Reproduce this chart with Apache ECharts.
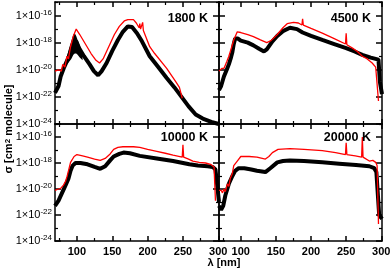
<!DOCTYPE html>
<html><head><meta charset="utf-8">
<script src="https://cdn.jsdelivr.net/npm/echarts@6/dist/echarts.min.js"></script>
<style>html,body{margin:0;padding:0;background:#fff}#c{width:392px;height:274px}</style>
</head><body><div id="c"></div>
<script>
// ---------- data (wavelength in nm, cross section as log10 value) ----------
const panelLabels = ['1800 K', '4500 K', '10000 K', '20000 K'];
const xTickLabels = [100, 150, 200, 250, 300];
const xMinorTicks = [75, 125, 175, 225, 275];
const yTickExps = [-24, -22, -20, -18, -16];
const yMinorExps = [-23, -21, -19, -17, -15];

// 1800 K
const k1800BlackX = [69,74,77,82,88,92,96,99,103,110,118,124,130,135,142,150,158,165,172,178,185,192,203,215,227,238,248,258,268,278,290,301];
const k1800BlackY = [-21.7,-21.2,-20.5,-19.8,-19.1,-18.5,-17.9,-17.9,-18.4,-19.0,-19.6,-20.1,-20.4,-20.1,-19.5,-18.6,-17.8,-17.2,-16.8,-16.85,-17.3,-17.9,-19.0,-19.8,-20.6,-21.3,-22.0,-22.7,-23.3,-23.6,-23.85,-24.0];
// noisy spread of the 1800 K black curve around its first maximum
const k1800BandX = [86,89,92,95,97,99,101,104,108];
const k1800BandHi = [-19.0,-18.4,-17.9,-17.4,-17.3,-17.5,-17.8,-18.2,-18.7];
const k1800BandLo = [-19.6,-19.4,-19.2,-18.9,-18.8,-18.8,-18.9,-19.1,-19.3];
const k1800RedX = [69,74,78,80,83,86,88,91,95,99,104,112,120,127,132,137,145,153,160,167,172,180,184,188,189,190,192,193,194,196,203,210,227,240,245,249];
const k1800RedY = [-20.1,-20.0,-20.1,-19.6,-19.8,-19.0,-19.2,-18.3,-17.5,-17.0,-17.4,-18.1,-18.8,-19.3,-19.5,-19.2,-18.3,-17.4,-16.8,-16.4,-16.3,-16.3,-16.55,-16.9,-16.6,-17.0,-16.9,-16.5,-17.1,-17.2,-18.3,-18.8,-19.9,-20.9,-21.3,-22.1];

// 4500 K
const k4500BlackX = [69,72,76,80,83,86,88,90,92,96,100,110,118,126,133,137,145,152,160,170,180,188,200,216,233,250,262,273,285,296,298,301];
const k4500BlackY = [-21.5,-21.2,-20.5,-20.0,-19.6,-19.1,-18.7,-18.1,-17.7,-17.7,-17.85,-18.0,-18.2,-18.45,-18.65,-18.5,-17.9,-17.5,-17.15,-16.9,-17.0,-17.25,-17.5,-17.8,-18.1,-18.4,-18.65,-18.9,-19.1,-19.25,-20.9,-21.8];
const k4500RedX = [69,73,76,80,83,86,90,95,100,110,118,128,137,143,152,160,166,175,182,187,188,189,200,216,233,249,250,251,259,266,273,280,287,292,294,296];
const k4500RedY = [-20.1,-19.9,-19.9,-19.4,-19.0,-18.5,-17.8,-17.2,-17.25,-17.4,-17.55,-17.8,-18.0,-17.85,-17.4,-16.9,-16.6,-16.5,-16.55,-16.7,-16.25,-16.7,-16.95,-17.3,-17.7,-18.1,-17.3,-18.15,-18.4,-18.65,-19.0,-19.2,-19.5,-19.8,-19.9,-22.3];

// 10000 K
const k10000BlackX = [69,74,79,84,88,91,94,98,105,115,125,133,140,147,152,160,166,175,189,213,236,259,271,285,292,296,301];
const k10000BlackY = [-21.3,-20.9,-20.3,-19.7,-19.2,-18.6,-18.2,-18.0,-18.0,-18.1,-18.3,-18.45,-18.25,-17.8,-17.5,-17.3,-17.2,-17.25,-17.45,-17.65,-17.85,-18.1,-18.2,-18.25,-18.3,-18.5,-21.0];
const k10000RedX = [69,74,77,81,84,86,89,91,96,100,108,115,125,133,140,147,152,158,165,180,189,200,213,225,236,249,250,251,258,264,273,282,289,294,296];
const k10000RedY = [-20.1,-20.0,-19.95,-19.7,-19.4,-19.05,-18.4,-17.95,-17.5,-17.35,-17.45,-17.55,-17.7,-17.8,-17.65,-17.3,-16.95,-16.8,-16.75,-16.75,-16.8,-16.95,-17.1,-17.25,-17.4,-17.55,-16.6,-17.55,-17.7,-17.85,-17.95,-18.0,-18.1,-18.3,-20.9];

// 20000 K
const k20000BlackX = [69,72,75,78,83,88,92,97,105,115,123,135,142,152,160,170,190,216,240,264,283,290,293,297,301];
const k20000BlackY = [-21.3,-21.6,-21.3,-20.5,-19.6,-19.0,-18.6,-18.4,-18.4,-18.5,-18.6,-18.7,-18.4,-17.95,-17.85,-17.8,-17.85,-17.95,-18.05,-18.15,-18.25,-18.4,-18.7,-22.0,-22.3];
const k20000RedX = [69,72,74,76,78,81,83,85,88,90,95,100,112,123,135,140,145,153,170,190,216,235,249,250,251,263,272,273,274,283,288,292,294,296];
const k20000RedY = [-20.1,-20.1,-20.3,-20.0,-20.2,-19.6,-19.8,-19.2,-18.8,-18.2,-17.85,-17.5,-17.5,-17.55,-17.7,-17.5,-17.2,-16.95,-16.9,-16.95,-17.05,-17.2,-17.35,-16.45,-17.35,-17.45,-17.55,-16.0,-17.55,-17.85,-17.8,-17.95,-18.2,-22.7];

const panels = [
  {black: [k1800BlackX, k1800BlackY], red: [k1800RedX, k1800RedY], band: [k1800BandX, k1800BandHi, k1800BandLo]},
  {black: [k4500BlackX, k4500BlackY], red: [k4500RedX, k4500RedY]},
  {black: [k10000BlackX, k10000BlackY], red: [k10000RedX, k10000RedY]},
  {black: [k20000BlackX, k20000BlackY], red: [k20000RedX, k20000RedY]}
];

// ---------- layout ----------
const grids = [
  {left: 55, top: 2, width: 164, height: 122},
  {left: 219, top: 2, width: 163, height: 122},
  {left: 55, top: 124, width: 164, height: 117},
  {left: 219, top: 124, width: 163, height: 117}
];
const X_MIN = 69, X_MAX = 301;
const Y_MIN = 9.99e-25, Y_MAX = 1.001e-15;
const FONT = 'Liberation Sans, Arial, Helvetica, sans-serif';
const lineStyle = {color: '#000', width: 1.5};
const minorLine = {color: '#000', width: 1.2};

const pow10 = v => Math.pow(10, v);
const toPts = (xs, ys) => xs.map((x, i) => [x, pow10(ys[i])]);
const yMajorVals = yTickExps.map(pow10);
const yMinorVals = yMinorExps.map(pow10);

const xAxes = [], yAxes = [], series = [], graphics = [];
grids.forEach((g, gi) => {
  const bottomRow = gi >= 2, leftCol = gi % 2 === 0;
  const xBase = {type: 'value', gridIndex: gi, min: X_MIN, max: X_MAX, splitLine: {show: false}};
  ['bottom', 'top'].forEach(pos => {
    xAxes.push(Object.assign({}, xBase, {
      position: pos,
      axisLine: {show: true, onZero: false, lineStyle},
      axisTick: {show: true, inside: true, length: 5, lineStyle, customValues: xTickLabels},
      axisLabel: {
        show: bottomRow && pos === 'bottom', margin: 5, color: '#000', fontSize: 11, fontWeight: 'bold', fontFamily: FONT,
        customValues: xTickLabels, showMinLabel: true, showMaxLabel: true,
        formatter: v => String(Math.round(v))
      }
    }));
    xAxes.push(Object.assign({}, xBase, {
      position: pos,
      axisLine: {show: false, onZero: false},
      axisTick: {show: true, inside: true, length: 3, lineStyle: minorLine, customValues: xMinorTicks},
      axisLabel: {show: false}
    }));
  });
  const yBase = {type: 'log', logBase: 10, gridIndex: gi, min: Y_MIN, max: Y_MAX, splitLine: {show: false}};
  ['left', 'right'].forEach(pos => {
    yAxes.push(Object.assign({}, yBase, {
      position: pos,
      axisLine: {show: true, onZero: false, lineStyle},
      axisTick: {show: true, inside: true, length: 6, lineStyle, customValues: yMajorVals},
      axisLabel: {
        show: leftCol && pos === 'left', margin: 3, color: '#000', fontSize: 11, fontFamily: FONT, lineHeight: 14,
        customValues: yMajorVals, showMinLabel: true, showMaxLabel: true,
        formatter: v => '1\u00d710{s|' + Math.round(Math.log10(v)) + '}',
        rich: {s: {fontSize: 8, fontFamily: FONT, color: '#000', lineHeight: 8, verticalAlign: 'top'}}
      }
    }));
    yAxes.push(Object.assign({}, yBase, {
      position: pos,
      axisLine: {show: false, onZero: false}, axisLabel: {show: false},
      axisTick: {show: true, inside: true, length: 3, lineStyle: minorLine, customValues: yMinorVals}
    }));
  });

  const xi = 4 * gi, yi = 4 * gi;
  const p = panels[gi];
  if (p.band) {
    const [bx, hi, lo] = p.band;
    series.push({
      type: 'custom', xAxisIndex: xi, yAxisIndex: yi, z: 2, clip: true,
      data: bx.map((x, i) => [x, pow10(hi[i]), pow10(lo[i])]),
      renderItem: (params, api) => {
        if (params.dataIndex !== 0) return null;
        const upper = bx.map((x, i) => api.coord([x, pow10(hi[i])]));
        const lower = bx.map((x, i) => api.coord([x, pow10(lo[i])])).reverse();
        return {type: 'polygon', shape: {points: upper.concat(lower)}, style: {fill: '#000'}};
      }
    });
  }
  series.push({
    type: 'line', xAxisIndex: xi, yAxisIndex: yi, data: toPts(p.black[0], p.black[1]),
    showSymbol: false, symbol: 'none', lineStyle: {color: '#000', width: 4}, z: 2, clip: true
  });
  series.push({
    type: 'line', xAxisIndex: xi, yAxisIndex: yi, data: toPts(p.red[0], p.red[1]),
    showSymbol: false, symbol: 'none', lineStyle: {color: '#ff0000', width: 1.3}, z: 3, clip: true
  });

  graphics.push({
    type: 'text', x: g.left + g.width - 11, y: g.top + (bottomRow ? 14 : 17),
    style: {text: panelLabels[gi], fill: '#000', font: 'bold 12.5px ' + FONT, textAlign: 'right', textVerticalAlign: 'middle'},
    z: 10
  });
});

graphics.push({
  type: 'text', x: 9, y: 129, rotation: Math.PI / 2,
  style: {
    text: '\u03c3 [cm{s|2} molecule]', fill: '#000', font: 'bold 11px ' + FONT,
    textAlign: 'center', textVerticalAlign: 'middle',
    rich: {s: {fontSize: 8, fontWeight: 'bold', fontFamily: FONT, verticalAlign: 'top', lineHeight: 8}}
  }
});
graphics.push({
  type: 'text', x: 224, y: 263,
  style: {text: '\u03bb [nm]', fill: '#000', font: 'bold 11px ' + FONT, textAlign: 'center', textVerticalAlign: 'middle'}
});

const chart = echarts.init(document.getElementById('c'), null, {renderer: 'canvas'});
chart.setOption({
  animation: false,
  backgroundColor: '#fff',
  grid: grids.map(g => Object.assign({containLabel: false, outerBoundsMode: 'none'}, g)),
  xAxis: xAxes,
  yAxis: yAxes,
  series: series,
  graphic: graphics
});
</script>
</body></html>
